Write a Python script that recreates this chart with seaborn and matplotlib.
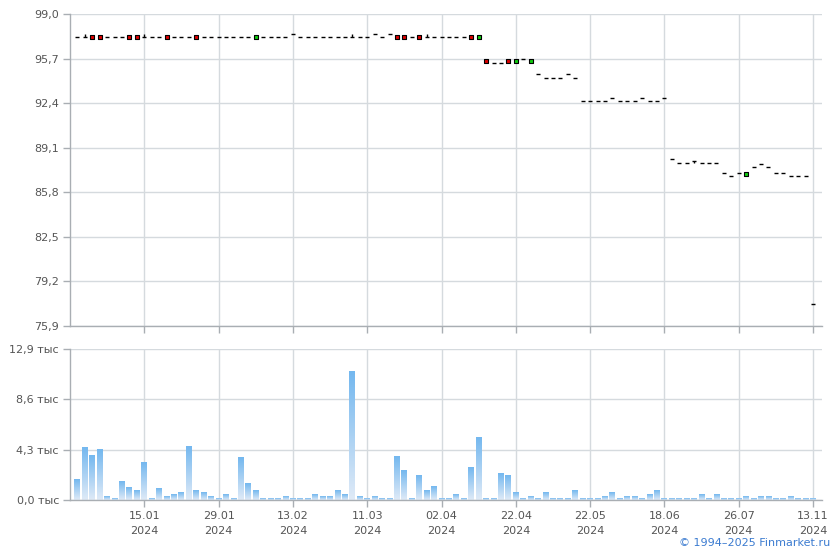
import numpy as np
import pandas as pd
import matplotlib
matplotlib.use("Agg")
import matplotlib.pyplot as plt
from matplotlib.colors import LinearSegmentedColormap
import seaborn as sns

# trading-day prices (close), candle kind: 0 flat, -1 down (red), 1 up (green)
price = [97.3, 97.3, 97.3, 97.3, 97.3, 97.3, 97.3, 97.3, 97.3, 97.3,
         97.3, 97.3, 97.3, 97.3, 97.3, 97.3, 97.3, 97.3, 97.3, 97.3,
         97.3, 97.3, 97.3, 97.3, 97.3, 97.3, 97.3, 97.3, 97.3, 97.5,
         97.3, 97.3, 97.3, 97.3, 97.3, 97.3, 97.3, 97.3, 97.3, 97.3,
         97.5, 97.3, 97.5, 97.3, 97.3, 97.3, 97.3, 97.3, 97.3, 97.3,
         97.3, 97.3, 97.3, 97.3, 97.3, 95.5, 95.4, 95.4, 95.5, 95.5,
         95.65, 95.5, 94.55, 94.25, 94.25, 94.25, 94.55, 94.25, 92.55, 92.55,
         92.55, 92.55, 92.75, 92.55, 92.55, 92.55, 92.75, 92.55, 92.55, 92.75,
         88.25, 88.0, 88.0, 88.15, 88.0, 88.0, 88.0, 87.25, 87.0, 87.25,
         87.15, 87.7, 87.9, 87.7, 87.25, 87.25, 87.0, 87.0, 87.0, 77.5]
kind = [0, 0, -1, -1, 0, 0, 0, -1, -1, 0,
        0, 0, -1, 0, 0, 0, -1, 0, 0, 0,
        0, 0, 0, 0, 1, 0, 0, 0, 0, 0,
        0, 0, 0, 0, 0, 0, 0, 0, 0, 0,
        0, 0, 0, -1, -1, 0, -1, 0, 0, 0,
        0, 0, 0, -1, 1, -1, 0, 0, -1, 1,
        0, 1, 0, 0, 0, 0, 0, 0, 0, 0,
        0, 0, 0, 0, 0, 0, 0, 0, 0, 0,
        0, 0, 0, 0, 0, 0, 0, 0, 0, 0,
        1, 0, 0, 0, 0, 0, 0, 0, 0, 0]
wick_idx = [1, 9, 37, 47, 83]
wick_end = [97.5, 97.5, 97.5, 97.5, 88.0]

# volume, thousands
volume = [1.79, 4.51, 3.83, 4.34, 0.26, 0.17, 1.62, 1.11, 0.85, 3.23,
          0.09, 0.94, 0.34, 0.51, 0.68, 4.59, 0.85, 0.60, 0.26, 0.17,
          0.51, 0.17, 3.66, 1.45, 0.85, 0.09, 0.09, 0.17, 0.26, 0.09,
          0.09, 0.09, 0.43, 0.34, 0.26, 0.85, 0.51, 10.97, 0.34, 0.09,
          0.34, 0.09, 0.09, 3.74, 2.55, 0.09, 2.13, 0.77, 1.19, 0.09,
          0.09, 0.43, 0.09, 2.81, 5.36, 0.09, 0.09, 2.30, 2.13, 0.68,
          0.09, 0.34, 0.09, 0.68, 0.09, 0.09, 0.09, 0.77, 0.09, 0.09,
          0.09, 0.26, 0.68, 0.17, 0.26, 0.34, 0.09, 0.51, 0.77, 0.09,
          0.17, 0.17, 0.17, 0.17, 0.43, 0.09, 0.51, 0.17, 0.09, 0.17,
          0.26, 0.09, 0.26, 0.34, 0.09, 0.09, 0.26, 0.09, 0.09, 0.09]

tick_pos = [9, 19, 29, 39, 49, 59, 69, 79, 89, 99]
tick_dates = ["15.01", "29.01", "13.02", "11.03", "02.04",
              "22.04", "22.05", "18.06", "26.07", "13.11"]
tick_year = "2024"
price_ticks = [75.9, 79.2, 82.5, 85.8, 89.1, 92.4, 95.7, 99.0]
vol_ticks = [0.0, 4.3, 8.6, 12.9]

sns.set_style("white")
plt.rcParams['font.family'] = ['DejaVu Sans']

df = pd.DataFrame({"day": np.arange(len(price)), "price": price,
                   "kind": kind, "volume": volume})

grid_c = "#d5dade"
axis_c = "#a9aeb3"
text_c = "#555555"

fig = plt.figure(figsize=(8.4, 5.5), dpi=100)
ax1 = fig.add_axes([70/840, 1-326/550, 752/840, 312/550])
ax2 = fig.add_axes([70/840, 1-500/550, 752/840, 151/550])

# price panel
flat = df[df.kind == 0]
sns.scatterplot(data=flat, x="day", y="price", marker="_", s=9,
                color="black", linewidth=1.0, ax=ax1, zorder=3, legend=False)
for i, e in zip(wick_idx, wick_end):
    ax1.vlines(i, min(price[i], e), max(price[i], e), color="black", lw=1, zorder=3)
boxes = df[df.kind != 0]
sns.scatterplot(data=boxes, x="day", y="price", hue="kind", marker="s", s=8,
                palette={-1: "#dd0000", 1: "#11cc11"}, edgecolor="black",
                linewidth=0.8, ax=ax1, zorder=4, legend=False)

# volume panel
sns.barplot(data=df, x="day", y="volume", width=0.8, color="#8cc4f0",
            native_scale=True, ax=ax2, zorder=2)
cmap = LinearSegmentedColormap.from_list("vol", ["#dfeaf7", "#74b8ef"])
grad = np.linspace(0, 1, 64).reshape(-1, 1)
for p in ax2.patches:
    x0, w, h = p.get_x(), p.get_width(), p.get_height()
    ax2.imshow(grad, extent=[x0, x0 + w, 0, h], origin="lower", aspect="auto",
               cmap=cmap, zorder=2.5)
    p.set_visible(False)

for ax in (ax1, ax2):
    ax.set_xlim(-1, 100.2)
    ax.set_xticks(tick_pos)
    ax.grid(True, color=grid_c, lw=1, zorder=0)
    ax.set_axisbelow(True)
    for s in ("top", "right"):
        ax.spines[s].set_visible(False)
    for s in ("left", "bottom"):
        ax.spines[s].set_color(axis_c)
        ax.spines[s].set_linewidth(1)
    ax.tick_params(axis="both", length=5, width=1, color=axis_c,
                   labelsize=8, labelcolor=text_c, pad=3,
                   bottom=True, left=True)
    ax.set_xlabel("")
    ax.set_ylabel("")

ax1.set_ylim(75.9, 99.0)
ax1.set_yticks(price_ticks)
ax1.set_yticklabels([f"{v:.1f}".replace(".", ",") for v in price_ticks])
ax1.set_xticklabels([])

ax2.set_ylim(0, 12.9)
ax2.set_yticks(vol_ticks)
ax2.set_yticklabels([f"{v:.1f}".replace(".", ",") + " тыс" for v in vol_ticks])
ax2.set_xticklabels([f"{d}\n{tick_year}" for d in tick_dates], linespacing=1.6)

fig.text(830/840, 1-543/550, "© 1994–2025 Finmarket.ru", ha="right", va="center",
         fontsize=8, color="#3b7bd0")

fig.savefig("out.png", dpi=100)
